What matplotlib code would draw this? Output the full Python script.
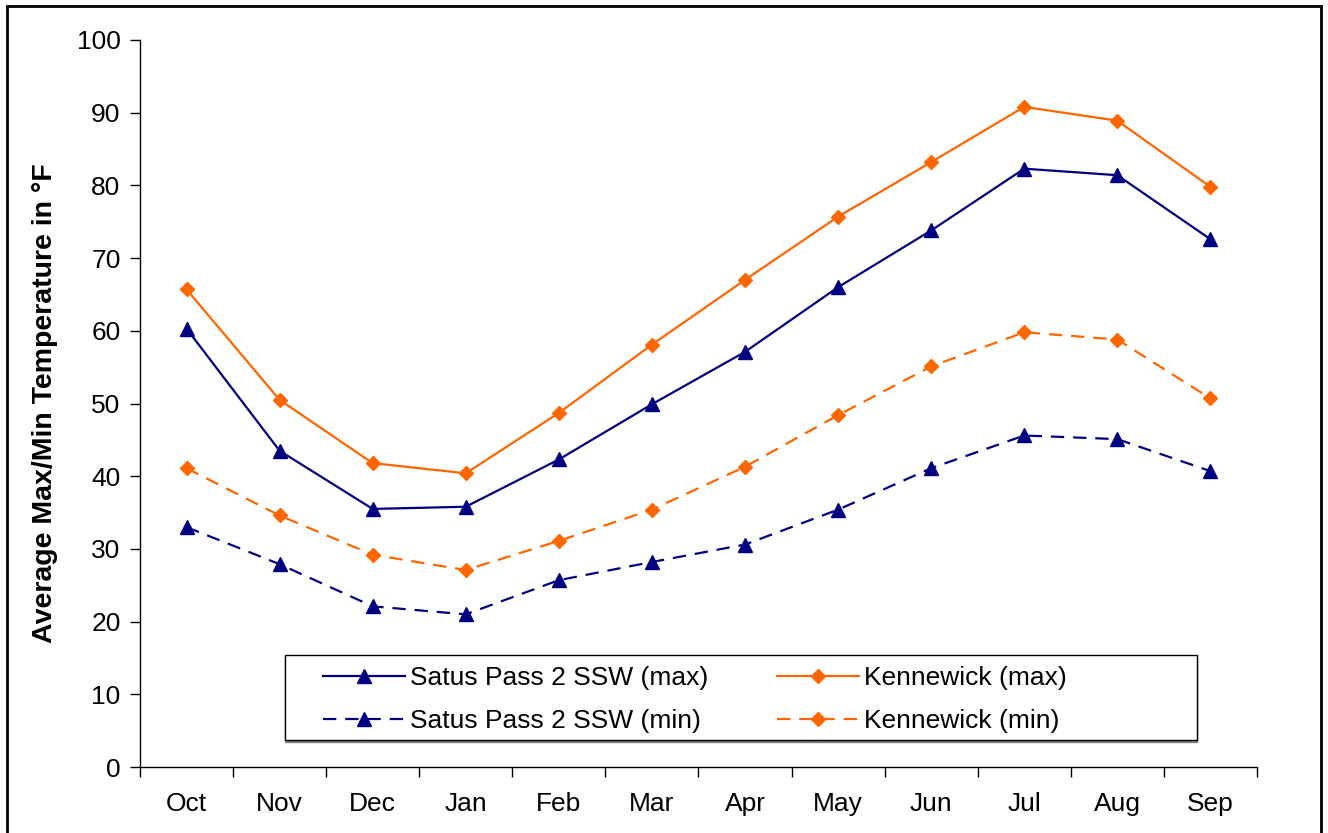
import matplotlib.pyplot as plt
import numpy as np
from matplotlib.patches import Rectangle

plt.rcParams["font.family"] = ["Liberation Sans", "DejaVu Sans"]

months = ["Oct", "Nov", "Dec", "Jan", "Feb", "Mar", "Apr", "May", "Jun", "Jul", "Aug", "Sep"]

# monthly average temperatures, deg F
satus_max = [60.3, 43.5, 35.5, 35.8, 42.3, 49.9, 57.1, 66.0, 73.8, 82.3, 81.4, 72.6]
kennewick_max = [65.7, 50.5, 41.8, 40.4, 48.7, 58.1, 67.0, 75.7, 83.2, 90.8, 88.9, 79.8]
satus_min = [33.0, 27.9, 22.1, 21.0, 25.7, 28.2, 30.6, 35.4, 41.1, 45.6, 45.1, 40.7]
kennewick_min = [41.1, 34.6, 29.2, 27.1, 31.1, 35.4, 41.3, 48.4, 55.1, 59.8, 58.8, 50.7]

navy = "#000080"
orange = "#FF6600"
dash = (0, (6, 4))

fig = plt.figure(figsize=(13.28, 8.33), dpi=100)
ax = fig.add_axes([0.1054, 0.0792, 0.8411, 0.8728])

x = np.arange(len(months))
ax.plot(x, satus_max, color=navy, lw=1.6, marker="^", ms=10, label="Satus Pass 2 SSW (max)")
ax.plot(x, kennewick_max, color=orange, lw=1.6, marker="D", ms=7.5, label="Kennewick (max)")
ax.plot(x, satus_min, color=navy, lw=1.6, ls=dash, marker="^", ms=10, label="Satus Pass 2 SSW (min)")
ax.plot(x, kennewick_min, color=orange, lw=1.6, ls=dash, marker="D", ms=7.5, label="Kennewick (min)")

ax.set_xlim(-0.5, len(months) - 0.5)
ax.set_ylim(0, 100)
ax.set_yticks(range(0, 101, 10))
ax.tick_params(axis="y", labelsize=19, length=7, width=1, pad=7)
ax.set_xticks(x)
ax.set_xticklabels(months)
ax.set_xticks(np.arange(-0.5, len(months)), minor=True)
ax.tick_params(axis="x", which="major", length=0, labelsize=19, pad=18)
ax.tick_params(axis="x", which="minor", length=7, width=1)

for side in ["top", "right"]:
    ax.spines[side].set_visible(False)
for side in ["left", "bottom"]:
    ax.spines[side].set_linewidth(1)

ax.set_ylabel("Average Max/Min Temperature in \u00b0F", fontsize=20.5, fontweight="bold")
ax.yaxis.set_label_coords(-0.073, 0.5)

# legend box with a grey drop shadow along the bottom
box = (0.1298, 0.0371, 0.8165, 0.1169)
ax.add_patch(Rectangle((box[0], box[1] - 0.003), box[2], box[3], transform=ax.transAxes,
                       facecolor="0.5", edgecolor="0.5", lw=1, zorder=4, clip_on=False))
ax.add_patch(Rectangle(box[:2], box[2], box[3], transform=ax.transAxes,
                       facecolor="white", edgecolor="black", lw=1, zorder=4.5, clip_on=False))

handles, labels = ax.get_legend_handles_labels()
order = [0, 2, 1, 3]
leg = ax.legend([handles[i] for i in order], [labels[i] for i in order],
                ncol=2, loc="upper left", bbox_to_anchor=(0.1638, 0.1385),
                fontsize=19, frameon=False, borderpad=0, borderaxespad=0,
                handlelength=3.1, handletextpad=0.2, labelspacing=0.72,
                columnspacing=2.6)
leg.set_zorder(5)

# outer border around the whole chart
fig.patches.append(Rectangle((7 / 1328, -0.02), 1314 / 1328, 1.0 - 6 / 833 + 0.02,
                             transform=fig.transFigure, fill=False, lw=2, ec="black"))

fig.savefig("out.png", dpi=100)
